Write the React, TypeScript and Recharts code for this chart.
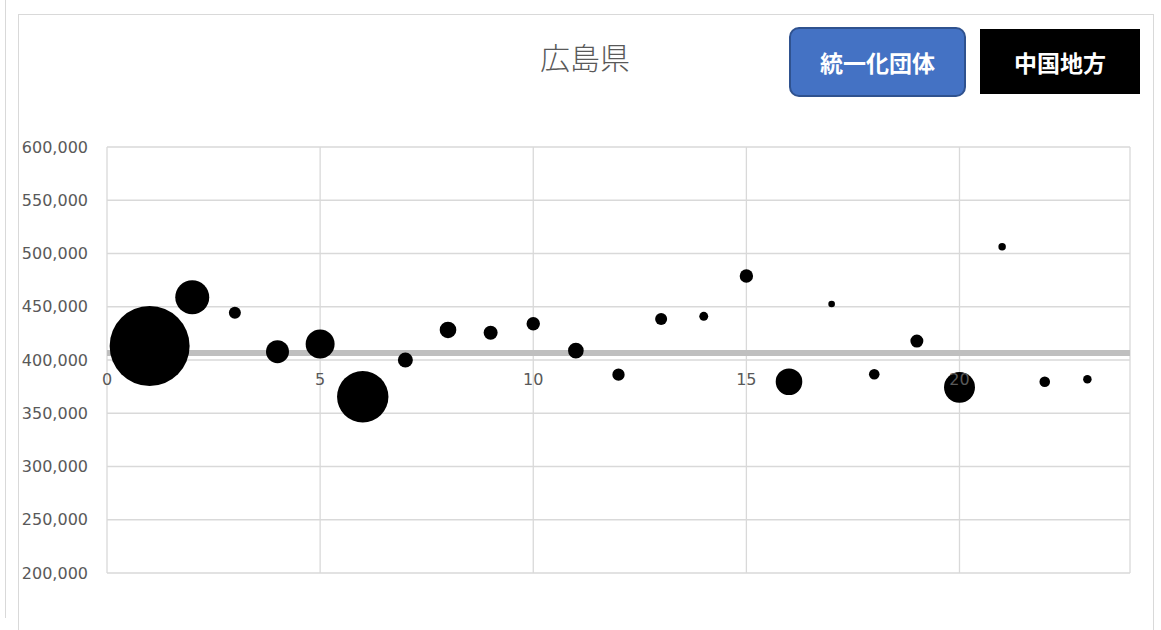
import React from 'react';
import {
  ScatterChart,
  Scatter,
  XAxis,
  YAxis,
  ZAxis,
  CartesianGrid,
  ReferenceLine,
  ReferenceDot,
} from 'recharts';

// municipality index (x), per-capita value (y), bubble size (z)
const cityIndex = [1, 2, 3, 4, 5, 6, 7, 8, 9, 10, 11, 12, 13, 14, 15, 16, 17, 18, 19, 20, 21, 22, 23];
const values = [
  413100, 458900, 444400, 407800, 415000, 365500, 400000, 428200, 425600, 434100, 408800, 386200,
  438500, 441000, 478900, 379600, 452600, 386600, 417800, 374300, 506400, 379600, 381900,
];
const sizes = [1600, 289, 36, 132, 210, 660, 56, 69, 49, 45, 61, 38, 36, 20, 45, 177, 11, 28, 42, 240, 14, 28, 18];

const xTicks = [0, 5, 10, 15, 20];
const yTicks = [200000, 250000, 300000, 350000, 400000, 450000, 500000, 550000, 600000];
const axisCross = 406500;

const points = cityIndex.map((x, i) => ({ x, y: values[i], z: sizes[i] }));

const GRAY = '#595959';

// tick label drawn just under the axis line that crosses at axisCross
const xTickLabel = (t: number) => (props: any) => {
  const vb = props.viewBox || {};
  return (
    <text x={vb.x} y={vb.y + 32} textAnchor="middle" fill={GRAY} fontSize={16}>
      {t}
    </text>
  );
};

export default function App() {
  return (
    <div
      style={{
        position: 'absolute',
        left: 0,
        top: 0,
        width: 1161,
        height: 630,
        background: '#fff',
        fontFamily: '"DejaVu Sans", sans-serif',
        overflow: 'hidden',
      }}
    >
      <div style={{ position: 'absolute', left: 5, top: 0, width: 0, height: 618, borderLeft: '1.5px solid #d9d9d9' }} />
      <div
        style={{
          position: 'absolute',
          left: 18,
          top: 14,
          width: 1136,
          height: 640,
          border: '1.5px solid #d9d9d9',
          boxSizing: 'border-box',
        }}
      />
      <div
        style={{
          position: 'absolute',
          left: 485,
          top: 36,
          width: 200,
          textAlign: 'center',
          fontFamily: '"Noto Sans CJK JP", sans-serif',
          fontWeight: 300,
          fontSize: 30,
          color: GRAY,
          lineHeight: '40px',
        }}
      >
        広島県
      </div>
      <div
        style={{
          position: 'absolute',
          left: 789,
          top: 27,
          width: 177,
          height: 70,
          boxSizing: 'border-box',
          background: '#4472c4',
          border: '2px solid #2f528f',
          borderRadius: 10,
          color: '#fff',
          fontFamily: '"Noto Sans CJK JP", sans-serif',
          fontWeight: 700,
          fontSize: 23,
          display: 'flex',
          alignItems: 'center',
          justifyContent: 'center',
        }}
      >
        統一化団体
      </div>
      <div
        style={{
          position: 'absolute',
          left: 980,
          top: 29,
          width: 160,
          height: 65,
          background: '#000',
          color: '#fff',
          fontFamily: '"Noto Sans CJK JP", sans-serif',
          fontWeight: 700,
          fontSize: 23,
          display: 'flex',
          alignItems: 'center',
          justifyContent: 'center',
        }}
      >
        中国地方
      </div>
      <div style={{ position: 'absolute', left: 0, top: 0 }}>
        <ScatterChart width={1161} height={630} margin={{ top: 147, right: 31, bottom: 57, left: 0 }}>
          <CartesianGrid stroke="#d9d9d9" strokeWidth={1.3} />
          <XAxis type="number" dataKey="x" domain={[0, 24]} ticks={xTicks} hide />
          <YAxis
            type="number"
            dataKey="y"
            domain={[200000, 600000]}
            ticks={yTicks}
            width={107}
            axisLine={false}
            tickLine={false}
            tickSize={0}
            tickMargin={19}
            tick={{ fill: GRAY, fontSize: 16 }}
            tickFormatter={(v: number) => v.toLocaleString('en-US')}
          />
          <ZAxis type="number" dataKey="z" domain={[0, 1600]} range={[0, 1600 * Math.PI]} />
          <ReferenceLine y={axisCross} stroke="#bfbfbf" strokeWidth={6} />
          <Scatter data={points} fill="#000" isAnimationActive={false} />
          {xTicks.map((t) => (
            <ReferenceDot
              key={t}
              x={t}
              y={axisCross}
              r={0}
              fill="none"
              stroke="none"
              label={xTickLabel(t)}
            />
          ))}
        </ScatterChart>
      </div>
    </div>
  );
}
